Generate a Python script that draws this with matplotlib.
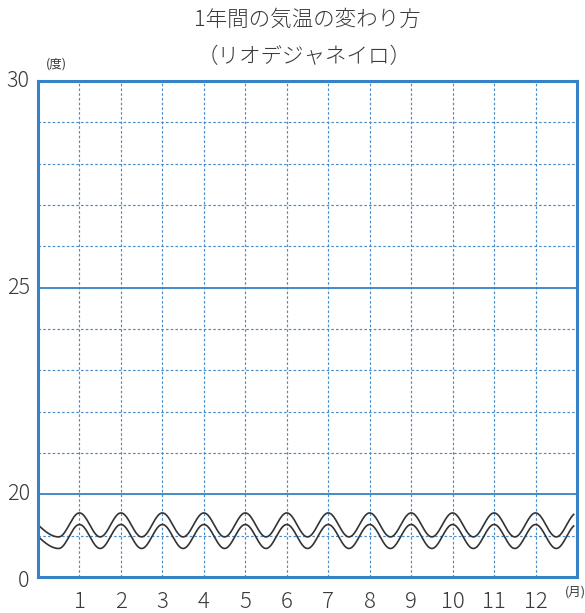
import numpy as np
import matplotlib
matplotlib.use("Agg")
import matplotlib.pyplot as plt

plt.rcParams['font.family'] = ['Noto Sans CJK JP', 'DejaVu Sans']

title = "1年間の気温の変わり方"
subtitle = "（リオデジャネイロ）"
months = [1, 2, 3, 4, 5, 6, 7, 8, 9, 10, 11, 12]
month_labels = [str(m) for m in months]
# y axis: axis units (broken axis) and their labels
ytick_pos = [0, 2, 7, 12]
ytick_labels = ["0", "20", "25", "30"]
y_unit_label = "(度)"
x_unit_label = "(月)"

blue = "#3582c6"
text_c = "#3a3a3a"
fig = plt.figure(figsize=(5.85, 6.13), dpi=100)
ax = fig.add_axes([38/585, 1-577/613, (577-38)/585, (577-81)/613])
ax.set_xlim(0, 13)
ax.set_ylim(0, 12)

# grid
for m in months:
    ax.axvline(m, color=blue, lw=0.85, ls=(0, (2.2, 1.8)), alpha=0.9)
for yv in range(1, 12):
    if yv in (2, 7):
        ax.axhline(yv, color=blue, lw=1.3)
    else:
        ax.axhline(yv, color=blue, lw=0.85, ls=(0, (2.2, 1.8)), alpha=0.9)

for sp in ax.spines.values():
    sp.set_color(blue)
    sp.set_linewidth(2.2)

# break symbol (two wavy lines)
x = np.linspace(0, 12.92, 1500)
phi = np.where(x >= 0.5, x, 0.25 + 0.5 * x)
for c in (1.26, 0.98):
    ax.plot(x, c + 0.29 * np.cos(2 * np.pi * phi), color="#333333", lw=1.2)

ax.set_xticks([])
ax.set_yticks([])

# tick labels
for m, lab in zip(months, month_labels):
    ax.text(m, -0.6, lab, ha="center", va="center", fontsize=16,
            color=text_c, fontweight="light")
for p, lab in zip(ytick_pos, ytick_labels):
    off = -0.1 if p == 0 else 0.0
    ax.text(-0.2, p + off, lab, ha="right", va="center", fontsize=15.5,
            color=text_c, fontweight="light")

ax.text(0.45, 12.4, y_unit_label, ha="center", va="center", fontsize=9, color=text_c)
ax.text(12.95, -0.37, x_unit_label, ha="center", va="center", fontsize=9, color=text_c)

fig.text(307/585, 1-20/613, title, ha="center", va="center", fontsize=15.5,
         color=text_c, fontweight="light")
fig.text(304/585, 1-57/613, subtitle, ha="center", va="center", fontsize=15.5,
         color=text_c, fontweight="light")

fig.savefig("out.png", dpi=100)
